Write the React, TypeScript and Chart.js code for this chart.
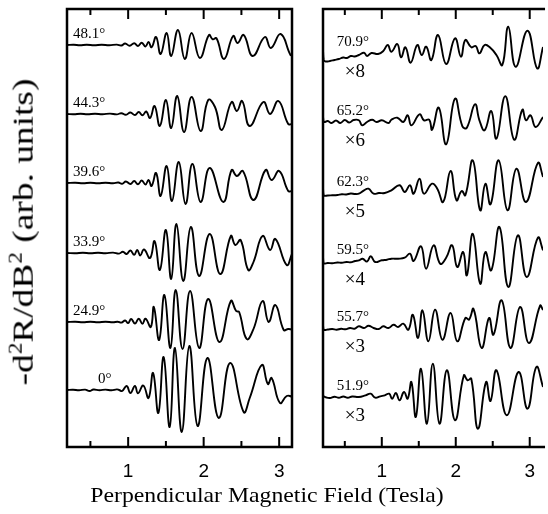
import React, { useEffect, useRef } from 'react';
import { Chart, registerables } from 'chart.js';

Chart.register(...registerables);

type Pt = [number, number];

// ---------- Left panel traces: [field (T), signal (arb.)] ----------
const trace_48_1: Pt[] = [
  [0.19, 0], [0.28, 0.3], [0.36, -0.3], [0.45, 0.3], [0.55, -0.2], [0.65, 0.3], [0.75, -0.3], [0.85, 0.4],
  [0.91, -0.5], [0.96, 1.5], [1.02, -0.8], [1.08, 1.8], [1.13, -1], [1.18, 2.3], [1.23, -1.5], [1.27, 3],
  [1.31, -2.3], [1.37, 8], [1.43, -9], [1.51, 12], [1.57, -11], [1.66, 15], [1.75, -14], [1.84, 12],
  [1.95, -13], [2.07, 10], [2.12, 5.7], [2.17, 6.7], [2.27, -14], [2.39, 9], [2.45, 2], [2.53, 10],
  [2.65, -11], [2.81, 8], [2.89, -3], [3.02, 11], [3.15, -10], [3.17, -9],
];
const trace_44_3: Pt[] = [
  [0.19, 0], [0.28, -0.3], [0.37, 0.3], [0.46, -0.3], [0.56, 0.3], [0.66, -0.2], [0.76, 0.4], [0.85, -0.4],
  [0.91, 0.8], [0.97, -0.8], [1.03, 1.5], [1.09, -1], [1.14, 2], [1.19, -1.2], [1.24, 2.5], [1.29, -4],
  [1.35, 8], [1.42, -12], [1.5, 14], [1.57, -14], [1.65, 18], [1.74, -18], [1.84, 17], [1.96, -17],
  [2.06, 14], [2.15, 7], [2.24, -16], [2.37, 12], [2.44, 3], [2.51, 13], [2.61, -12], [2.79, 12],
  [2.88, 0], [2.99, 13], [3.12, -10], [3.17, -10],
];
const trace_39_6: Pt[] = [
  [0.19, 0], [0.3, 0.3], [0.4, -0.3], [0.5, 0.2], [0.6, -0.3], [0.7, 0.3], [0.8, -0.2], [0.87, 0.5],
  [0.92, -0.8], [0.97, 1.5], [1.03, -1], [1.08, 2], [1.13, -1.3], [1.18, 2.5], [1.23, -1.5], [1.27, 3],
  [1.31, -3], [1.37, 10], [1.43, -13], [1.51, 17], [1.58, -18], [1.67, 21], [1.76, -21], [1.85, 19],
  [1.96, -19], [2.08, 15], [2.26, -19], [2.37, 13], [2.44, 7], [2.52, 12], [2.66, -17], [2.82, 13],
  [2.9, 3], [3.0, 12], [3.12, -8], [3.17, -8],
];
const trace_33_9: Pt[] = [
  [0.19, 0], [0.3, -0.3], [0.4, 0.3], [0.5, -0.3], [0.6, 0.3], [0.7, -0.2], [0.8, 0.4], [0.88, -0.6],
  [0.93, 1.2], [0.98, -1], [1.03, 2.5], [1.08, -1.8], [1.12, 3], [1.16, -2.5], [1.21, 3.5], [1.29, -5],
  [1.35, 12], [1.42, -17], [1.5, 23], [1.57, -26], [1.64, 29], [1.73, -28], [1.83, 26], [1.94, -23],
  [2.08, 19], [2.22, -21], [2.36, 17], [2.42, 8], [2.49, 13], [2.59, -17], [2.66, -9], [2.78, 17],
  [2.88, 3], [2.95, 14], [3.1, -12], [3.17, -1],
];
const trace_24_9: Pt[] = [
  [0.19, 0], [0.3, 0.3], [0.4, -0.3], [0.5, 0.3], [0.6, -0.3], [0.7, 0.3], [0.8, -0.3], [0.86, 0.3],
  [0.91, -0.6], [0.96, 1.5], [1.0, -1], [1.04, 3], [1.09, -1.5], [1.14, 3.3], [1.19, -1.7], [1.23, 3.3],
  [1.3, -5], [1.34, 15], [1.41, -18], [1.48, 27], [1.56, -26], [1.63, 32], [1.72, -27], [1.82, 31],
  [1.94, -26], [2.06, 23], [2.21, -20], [2.36, 21], [2.43, 11], [2.47, 10], [2.57, -17], [2.66, -7],
  [2.78, 21], [2.86, 0], [2.95, 17], [3.06, -8], [3.12, -7], [3.17, -7.5],
];
const trace_0: Pt[] = [
  [0.19, 0], [0.27, 0.3], [0.35, -0.3], [0.43, 0.4], [0.49, -1], [0.54, 0.5], [0.62, -0.2], [0.7, 0.4],
  [0.78, -0.3], [0.85, 0.6], [0.88, 0], [0.92, -1], [0.98, 4], [1.03, -3], [1.09, 4], [1.13, -3.3],
  [1.2, 4.5], [1.27, -8], [1.33, 17], [1.4, -23], [1.47, 33], [1.55, -37], [1.62, 42], [1.71, -42],
  [1.81, 44], [1.92, -36], [2.05, 32], [2.2, -28], [2.35, 27], [2.53, -22], [2.61, -8], [2.77, 25],
  [2.85, 6], [2.9, 12], [3.01, -13], [3.1, -6], [3.17, -6.5],
];

// ---------- Right panel traces ----------
const trace_70_9: Pt[] = [
  [0.205, 3], [0.215, -7], [0.24, -8.5], [0.3, -8], [0.36, -7], [0.42, -6], [0.48, -4.5], [0.53, -5],
  [0.58, -3], [0.63, -3.5], [0.69, -2], [0.76, 0.3], [0.8, -3], [0.86, 0], [0.95, -1], [1.02, 2],
  [1.08, 8], [1.13, 1.3], [1.21, 9], [1.26, -4.3], [1.32, 5.7], [1.39, -9.7], [1.48, 8], [1.54, -2],
  [1.6, 6.3], [1.67, -7], [1.76, 18], [1.87, -11], [1.99, 14.7], [2.07, -3.7], [2.13, 13], [2.21, 5.7],
  [2.27, 7], [2.32, -0.3], [2.39, 8], [2.46, 5.7], [2.55, -2], [2.63, -12], [2.71, 26.3], [2.81, -13.7],
  [2.97, 22.3], [3.1, -15.3], [3.18, 6],
];
const trace_65_2: Pt[] = [
  [0.205, 5], [0.22, 0], [0.27, 1], [0.32, -1], [0.38, 1.5], [0.44, -1], [0.5, 2], [0.56, -0.5],
  [0.62, 2], [0.69, 1.7], [0.735, -3.3], [0.8, 0], [0.87, 2.3], [0.93, 0], [1.0, 1.7], [1.09, -1],
  [1.13, 2.3], [1.21, 4.3], [1.29, 0], [1.35, 6.7], [1.4, -3.3], [1.51, 7.7], [1.57, 1.7], [1.64, 2.3],
  [1.68, -7.7], [1.77, 14.3], [1.87, -22.3], [1.99, 23.3], [2.09, -4.3], [2.15, -5.7], [2.26, 17.7], [2.32, 1.7],
  [2.39, -8.3], [2.48, 11], [2.55, -16.7], [2.67, 25.7], [2.79, -17.7], [2.9, 12.3], [2.95, 1.7], [3.01, 6.7],
  [3.08, -5], [3.18, 5],
];
const trace_62_3: Pt[] = [
  [0.205, 4.7], [0.215, -2.3], [0.27, -2.5], [0.33, -2.3], [0.4, -2], [0.46, -1.3], [0.52, -1.5], [0.58, -0.5],
  [0.64, -1], [0.69, -0.7], [0.76, 2.7], [0.82, 4.3], [0.89, -0.7], [0.96, 0], [1.04, 0], [1.13, 2.7],
  [1.24, 7.7], [1.31, 1], [1.38, 7.7], [1.43, -0.7], [1.51, 14.3], [1.57, -0.7], [1.68, 9.3], [1.75, 4.3],
  [1.83, -9], [1.93, 22], [2.01, -7.3], [2.08, 2], [2.13, -2.3], [2.23, 32.7], [2.33, -17.3], [2.4, 9.3],
  [2.47, -11.3], [2.58, 32.7], [2.7, -17.3], [2.82, 24.3], [2.95, -9], [3.11, 30], [3.18, 16],
];
const trace_59_5: Pt[] = [
  [0.205, 4], [0.215, -2.3], [0.27, -2], [0.33, -2.3], [0.4, -1.5], [0.46, -1.8], [0.52, -1], [0.58, -1.3],
  [0.64, 0], [0.69, 0.7], [0.74, 2.3], [0.8, -0.5], [0.85, 4.7], [0.91, -1], [1.0, 0.7], [1.07, 1.3],
  [1.13, 2.3], [1.22, 2.3], [1.31, 3.3], [1.38, 7.3], [1.43, 0], [1.53, 14.7], [1.6, -7.7], [1.7, 15.7],
  [1.79, -2.7], [1.87, 3.3], [1.95, 15.7], [2.02, -6], [2.1, 9], [2.15, -14.3], [2.23, 27.3], [2.33, -22.7],
  [2.4, 9], [2.48, -9.3], [2.59, 34], [2.71, -26], [2.84, 25.7], [2.96, -16], [3.11, 23.3], [3.18, 10.7],
];
const trace_55_7: Pt[] = [
  [0.205, 3], [0.215, -1.7], [0.27, -1.5], [0.33, -1], [0.39, -1.7], [0.45, -0.8], [0.51, -1.3], [0.57, 0],
  [0.63, -0.7], [0.69, 1.7], [0.76, 0], [0.82, 2.3], [0.89, 0], [0.96, -1], [1.02, 1.7], [1.09, 0],
  [1.16, 3.3], [1.22, 1], [1.29, 4.3], [1.36, -1.7], [1.42, 13.3], [1.49, -10], [1.55, 17.7], [1.63, -13.3],
  [1.72, 18.3], [1.82, -11.7], [1.93, 15], [2.02, -13.3], [2.13, 10], [2.18, 8.5], [2.24, 19], [2.35, -20],
  [2.45, 10], [2.51, -6.7], [2.62, 27.7], [2.74, -20], [2.87, 21], [2.99, -15], [3.14, 22.3], [3.18, 18],
];
const trace_51_9: Pt[] = [
  [0.205, 1], [0.25, -0.5], [0.3, -1], [0.36, 0.3], [0.42, -0.8], [0.48, 0.5], [0.54, -0.8], [0.6, 0.5],
  [0.69, 0], [0.78, 1.7], [0.85, 3.3], [0.91, -0.7], [0.98, 0.7], [1.04, 1.7], [1.1, 3.3], [1.14, -1.7],
  [1.19, 4], [1.24, -3.3], [1.3, 5], [1.35, -1.7], [1.4, 15], [1.46, -20], [1.53, 28.3], [1.61, -26.7],
  [1.69, 33.3], [1.78, -26.7], [1.88, 26.7], [1.99, -23.3], [2.11, 21.7], [2.16, 16.7], [2.21, 18.3], [2.3, -31.7],
  [2.41, 15], [2.47, -4], [2.55, 26.7], [2.69, -18.3], [2.85, 25], [2.97, -11.7], [3.09, 30], [3.18, 10],
];

const leftTraces = [trace_48_1, trace_44_3, trace_39_6, trace_33_9, trace_24_9, trace_0];
const leftAngles = ['48.1°', '44.3°', '39.6°', '33.9°', '24.9°', '0°'];
const leftOffsets = [402, 333, 264, 194, 125, 57];

const rightTraces = [trace_70_9, trace_65_2, trace_62_3, trace_59_5, trace_55_7, trace_51_9];
const rightAngles = ['70.9°', '65.2°', '62.3°', '59.5°', '55.7°', '51.9°'];
const rightMultipliers = ['×8', '×6', '×5', '×4', '×3', '×3'];
const rightOffsets = [394, 325, 254, 186, 119, 50];

const xTickLabels = ['1', '2', '3'];

const SERIF = '"Liberation Serif", "Times New Roman", serif';
const SANS = '"Liberation Sans", Arial, sans-serif';

const decorPlugin = {
  id: 'decor',
  afterDraw(chart: any) {
    const o = chart.options.plugins.decor;
    const { ctx, chartArea: a, scales } = chart;
    const xs = scales.x;
    const ys = scales.y;
    ctx.save();
    ctx.strokeStyle = '#000';
    ctx.lineWidth = 2.5;
    ctx.lineJoin = 'miter';
    ctx.beginPath();
    if (o.rightBorder) {
      ctx.rect(a.left, a.top, a.right - a.left, a.bottom - a.top);
    } else {
      ctx.moveTo(a.right + 2, a.top);
      ctx.lineTo(a.left, a.top);
      ctx.lineTo(a.left, a.bottom);
      ctx.lineTo(a.right + 2, a.bottom);
    }
    ctx.stroke();
    // inward ticks, from the scale's own ticks
    ctx.lineWidth = 2;
    ctx.beginPath();
    xs.ticks.forEach((t: any) => {
      const px = xs.getPixelForValue(t.value);
      const major = xTickLabels.includes(String(t.value));
      const len = major ? 10 : 6;
      ctx.moveTo(px, a.bottom);
      ctx.lineTo(px, a.bottom - len);
      ctx.moveTo(px, a.top);
      ctx.lineTo(px, a.top + len);
    });
    ctx.stroke();
    // trace labels
    ctx.fillStyle = '#000';
    ctx.textBaseline = 'alphabetic';
    ctx.textAlign = 'left';
    o.angles.forEach((lab: string, i: number) => {
      const y0 = ys.getPixelForValue(o.offsets[i]);
      ctx.font = `15px ${SERIF}`;
      ctx.fillText(lab, xs.getPixelForValue(o.labelField[i]), y0 - 7);
      if (o.mult) {
        ctx.font = `19px ${SERIF}`;
        ctx.fillText(o.mult[i], xs.getPixelForValue(o.multField), y0 + 24);
      }
    });
    ctx.restore();
  },
};

function makeChart(
  canvas: HTMLCanvasElement,
  traces: Pt[][],
  offsets: number[],
  xMin: number,
  xMax: number,
  padding: any,
  decor: any
) {
  return new Chart(canvas, {
    type: 'line',
    data: {
      datasets: traces.map((t, i) => ({
        data: t.map(([x, y]) => ({ x, y: y + offsets[i] })),
        borderColor: '#000',
        borderWidth: 1.9,
        pointRadius: 0,
        fill: false,
        tension: 0.45,
      })),
    },
    options: {
      animation: false,
      responsive: false,
      maintainAspectRatio: false,
      layout: { padding },
      plugins: {
        legend: { display: false },
        tooltip: { enabled: false },
        decor,
      } as any,
      scales: {
        x: {
          type: 'linear',
          min: xMin,
          max: xMax,
          border: { display: false },
          grid: { display: false, drawTicks: false },
          ticks: {
            stepSize: 0.5,
            includeBounds: false,
            autoSkip: false,
            maxRotation: 0,
            padding: 13,
            color: '#000',
            font: { size: 19, family: SANS },
            callback: (v: any) => xTickLabels.find((l) => Number(l) === Number(v)) ?? '',
          },
          afterFit: (s: any) => {
            s.height = 67;
          },
        },
        y: { type: 'linear', min: 0, max: 438, display: false },
      },
    } as any,
    plugins: [decorPlugin],
  });
}

export default function App() {
  const leftRef = useRef<HTMLCanvasElement>(null);
  const rightRef = useRef<HTMLCanvasElement>(null);

  useEffect(() => {
    const c1 = makeChart(leftRef.current!, leftTraces, leftOffsets, 0.19, 3.17,
      { left: 67, top: 9, right: 13, bottom: 0 },
      { rightBorder: true, angles: leftAngles, offsets: leftOffsets, labelField: [0.27, 0.27, 0.27, 0.27, 0.27, 0.6] });
    const c2 = makeChart(rightRef.current!, rightTraces, rightOffsets, 0.205, 3.18,
      { left: 13, top: 9, right: 0, bottom: 0 },
      { rightBorder: false, angles: rightAngles, offsets: rightOffsets, labelField: [0.39, 0.39, 0.39, 0.39, 0.39, 0.39], mult: rightMultipliers, multField: 0.5 });
    return () => {
      c1.destroy();
      c2.destroy();
    };
  }, []);

  return (
    <div style={{ position: 'absolute', left: 0, top: 0, width: 548, height: 514, background: '#fff', overflow: 'hidden' }}>
      <canvas ref={leftRef} width={305} height={514} style={{ position: 'absolute', left: 0, top: 0, width: 305, height: 514 }} />
      <canvas ref={rightRef} width={238} height={514} style={{ position: 'absolute', left: 310, top: 0, width: 238, height: 514 }} />
      <div
        style={{
          position: 'absolute', left: 22, top: 232, transform: 'translate(-50%, -50%) rotate(-90deg) scaleX(1.29)',
          fontFamily: SERIF, fontSize: 29, whiteSpace: 'nowrap', color: '#000', lineHeight: 1,
        }}
      >
        -d<sup style={{ fontSize: '0.62em' }}>2</sup>R/dB<sup style={{ fontSize: '0.62em' }}>2</sup> (arb. units)
      </div>
      <div
        style={{
          position: 'absolute', left: 267, top: 483, transform: 'translateX(-50%) scaleX(1.13)',
          fontFamily: SERIF, fontSize: 21, whiteSpace: 'nowrap', color: '#000',
        }}
      >
        Perpendicular Magnetic Field (Tesla)
      </div>
    </div>
  );
}
